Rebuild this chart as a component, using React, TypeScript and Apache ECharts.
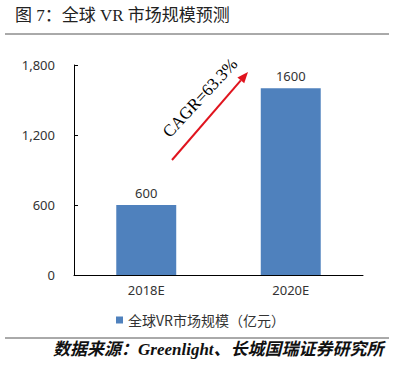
import React, { useEffect, useRef } from "react";
import * as echarts from "echarts";

const categories = ["2018E", "2020E"];
const values = [600, 1600];
const seriesName = "全球VR市场规模（亿元）";
const titleText = "图 7：全球 VR 市场规模预测";
const sourceText = "数据来源：Greenlight、长城国瑞证券研究所";
const cagrText = "CAGR=63.3%";

export default function App() {
  const ref = useRef<HTMLDivElement>(null);
  useEffect(() => {
    const chart = echarts.init(ref.current!, null, { renderer: "svg" });
    const tip = [248, 72];
    const start = [172, 160];
    const dx = tip[0] - start[0];
    const dy = tip[1] - start[1];
    const len = Math.sqrt(dx * dx + dy * dy);
    const ux = dx / len, uy = dy / len;
    const hl = 11, hw = 4.5;
    const bx = tip[0] - ux * hl, by = tip[1] - uy * hl;
    const px = -uy, py = ux;
    chart.setOption({
      animation: false,
      backgroundColor: "#ffffff",
      grid: { left: 74, right: 36, top: 65, bottom: 97 },
      legend: {
        data: [seriesName],
        left: 111,
        top: 308,
        icon: "rect",
        itemWidth: 7,
        itemHeight: 7,
        itemGap: 4,
        textStyle: { fontSize: 14, color: "#333", fontFamily: "Noto Sans CJK SC" },
      },
      xAxis: {
        type: "category",
        data: categories,
        axisLine: { lineStyle: { color: "#000", width: 1 } },
        axisTick: { inside: true, length: 4, lineStyle: { color: "#000" } },
        axisLabel: { fontSize: 13, color: "#333", margin: 8, fontFamily: "Noto Sans" },
      },
      yAxis: {
        type: "value",
        min: 0,
        max: 1800,
        interval: 600,
        splitLine: { show: false },
        axisLine: { show: true, lineStyle: { color: "#000", width: 1 } },
        axisTick: { show: true, inside: true, length: 4, lineStyle: { color: "#000" } },
        axisLabel: {
          fontSize: 13,
          color: "#333",
          margin: 19,
          fontFamily: "Noto Sans",
          formatter: (v: number) => v.toLocaleString("en-US"),
        },
      },
      series: [
        {
          name: seriesName,
          type: "bar",
          data: values,
          barWidth: "41.5%",
          itemStyle: { color: "#4F81BD" },
          label: {
            show: true,
            position: "top",
            distance: 6,
            fontSize: 13,
            color: "#333",
            fontFamily: "Noto Sans",
          },
        },
      ],
      graphic: [
        {
          type: "text",
          left: 15,
          top: 7,
          style: {
            text: titleText,
            fontSize: 17,
            fill: "#222",
            fontFamily: "Liberation Serif, Noto Sans CJK SC",
          },
        },
        {
          type: "line",
          shape: { x1: 5, y1: 34, x2: 389, y2: 34 },
          style: { stroke: "#555", lineWidth: 1 },
        },
        {
          type: "line",
          shape: { x1: 5, y1: 338, x2: 389, y2: 338 },
          style: { stroke: "#555", lineWidth: 1 },
        },
        {
          type: "text",
          left: 53,
          top: 341,
          style: {
            text: sourceText,
            fontSize: 17,
            fontStyle: "italic",
            fontWeight: "bold",
            fill: "#111",
            fontFamily: "Liberation Serif, Noto Sans CJK SC",
          },
        },
        {
          type: "line",
          shape: { x1: start[0], y1: start[1], x2: bx, y2: by },
          style: { stroke: "#E0141E", lineWidth: 2 },
        },
        {
          type: "polygon",
          shape: {
            points: [
              [tip[0], tip[1]],
              [bx + px * hw, by + py * hw],
              [bx - px * hw, by - py * hw],
            ],
          },
          style: { fill: "#E0141E" },
        },
        {
          type: "text",
          x: 200,
          y: 98,
          rotation: (47 * Math.PI) / 180,
          style: {
            text: cagrText,
            fontSize: 17,
            fill: "#000",
            fontFamily: "Liberation Serif",
            align: "center",
            verticalAlign: "middle",
          },
        },
      ],
    });
    return () => chart.dispose();
  }, []);
  return (
    <div
      ref={ref}
      style={{ position: "fixed", left: 0, top: 0, width: 399, height: 372 }}
    />
  );
}
